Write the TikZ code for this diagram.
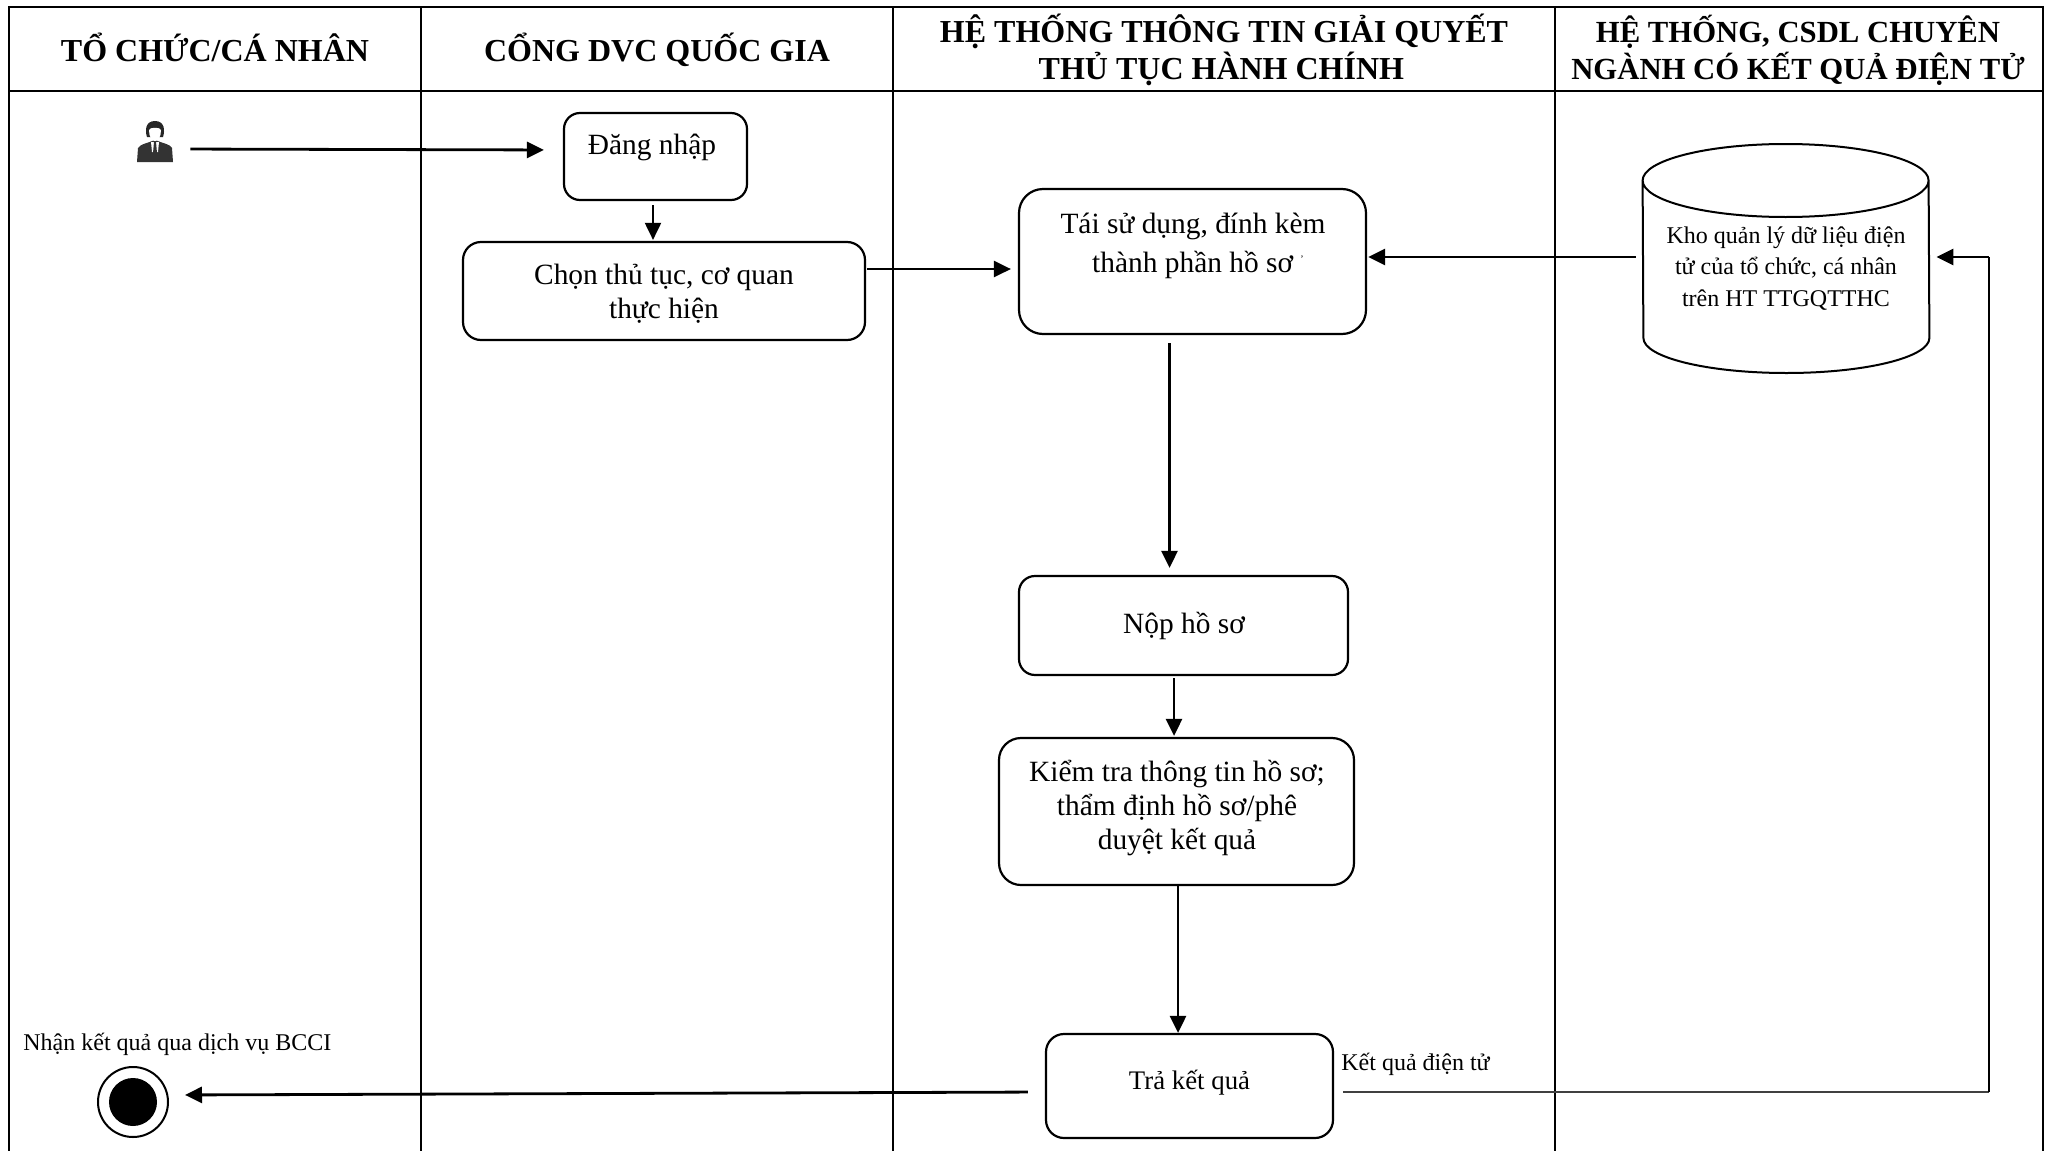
\documentclass[tikz,border=0pt]{standalone}
\usepackage{fontspec}
\setmainfont{Liberation Serif}
\usetikzlibrary{arrows.meta}
\tikzset{
  head/.style={font=\bfseries\fontsize{16}{18.5}\selectfont,align=center,inner sep=0pt},
  txt/.style={font=\fontsize{14.7}{17}\selectfont,align=center,inner sep=0pt},
  small/.style={font=\fontsize{12}{15.75}\selectfont,align=center,inner sep=0pt},
  box/.style={draw,line width=1.1pt,rounded corners=8pt,inner sep=0pt},
  arr/.style={line width=1.4pt,-{Triangle[length=8.5pt,width=8pt]}},
  thin line/.style={line width=0.8pt},
  frame/.style={line width=1.4pt},
  col/.style={line width=1pt},
}
\begin{document}
\begin{tikzpicture}[x=0.5pt,y=-0.5pt]
\useasboundingbox (0,0) rectangle (2051,1151);
% swimlane frame
\draw[frame] (9,1151) -- (9,7) -- (2043,7) -- (2043,1151);
\draw[frame] (9,91) -- (2043,91);
\draw[col] (421,7) -- (421,1151);
\draw[col] (893,7) -- (893,1151);
\draw[col] (1555,7) -- (1555,1151);
% headers
\node[head] (h1) at (215,47.5) {TỔ CHỨC/CÁ NHÂN};
\node[head] (h2) at (657,50) {CỔNG DVC QUỐC GIA};
\node[head] (h3) at (1224,50) {HỆ THỐNG THÔNG TIN GIẢI QUYẾT\\\hspace*{-2.6pt}THỦ TỤC HÀNH CHÍNH};
\node[head,font=\bfseries\fontsize{15.35}{18.5}\selectfont] (h4) at (1798,50) {HỆ THỐNG, CSDL CHUYÊN\\NGÀNH CÓ KẾT QUẢ ĐIỆN TỬ};
% boxes
\node[box,minimum width=91.5pt,minimum height=43.5pt] (login) at (655.5,156.5) {};
\node[box,minimum width=201pt,minimum height=49pt,rounded corners=9pt] (choose) at (664,291) {};
\node[box,minimum width=173.5pt,minimum height=72.5pt,rounded corners=12pt] (reuse) at (1192.5,261.5) {};
\node[box,minimum width=164.5pt,minimum height=49.5pt] (submit) at (1183.5,625.5) {};
\node[box,minimum width=177.5pt,minimum height=73.5pt,rounded corners=11pt] (check) at (1176.5,811.5) {};
\node[box,minimum width=143.5pt,minimum height=52pt,rounded corners=9pt] (result) at (1189.5,1086) {};
% box texts
\node[txt] (loginT) at (652,147.5) {Đăng nhập};
\node[txt] (chooseT) at (664,294) {Chọn thủ tục, cơ quan\\thực hiện};
\node[txt,font=\fontsize{14.7}{19.5}\selectfont] (reuseT) at (1193,245.5) {Tái sử dụng, đính kèm\\\hspace*{5pt}thành phần hồ sơ \raisebox{5pt}{\tiny'}};
\node[txt] (submitT) at (1184,626.3) {Nộp hồ sơ};
\node[txt] (checkT) at (1177,808) {Kiểm tra thông tin hồ sơ;\\thẩm định hồ sơ/phê\\duyệt kết quả};
\node[txt,font=\fontsize{13.4}{15}\selectfont] (resultT) at (1189.5,1082.5) {Trả kết quả};
% cylinder
\node[inner sep=0pt,minimum width=143pt,minimum height=114.5pt] (db) at (1786,258.5) {};
\draw[line width=1pt,line join=round] (db.west |- 0,180.5) arc[start angle=180,end angle=0,x radius=143,y radius=36.5]
  -- (db.east |- 0,338) arc[start angle=0,end angle=180,x radius=143,y radius=35] -- cycle;
\draw[line width=1pt,line join=round] (db.west |- 0,180.5) arc[start angle=180,end angle=360,x radius=143,y radius=36.5];
\node[small] (dbT) at (1786,268.5) {Kho quản lý dữ liệu điện\\tử của tổ chức, cá nhân\\trên HT TTGQTTHC};
% person icon
\node[inner sep=0pt,minimum width=18pt,minimum height=21pt] (person) at (155,141) {};
\fill[black!80] (137,162) -- (138,148) .. controls (140,144) and (148,143) .. (155,140) .. controls (162,143) and (170,144) .. (172,148) -- (173,162) -- cycle;
\fill[black!85] (155,121) .. controls (145,121) and (145,131) .. (147,137) -- (163,137) .. controls (165,131) and (165,121) .. (155,121) -- cycle;
\fill[white] (149,130) .. controls (149,127) and (161,127) .. (161,130) .. controls (161,137) and (158,141) .. (155,141) .. controls (152,141) and (149,137) .. (149,130) -- cycle;
\fill[white] (151,142) -- (159,142) -- (158,152) -- (152,152) -- cycle;
\fill[black!80] (154,142) -- (156,142) -- (157,153) -- (155,156) -- (153,153) -- cycle;
% end state
\node[circle,draw,line width=1pt,minimum size=35pt,inner sep=0pt] (endO) at (133,1102) {};
\node[circle,fill=black,minimum size=24pt,inner sep=0pt] (endI) at (endO) {};
\node[font=\fontsize{12}{14}\selectfont,inner sep=0pt,anchor=west] (endT) at (23,1044) {Nhận kết quả qua dịch vụ BCCI};
\node[font=\fontsize{12}{14}\selectfont,inner sep=0pt,anchor=west] (resL) at (1341,1064) {Kết quả điện tử};
% connectors
\draw[arr,shorten <=8.5pt,shorten >=9.5pt] ([yshift=-4pt]person.east) -- ([yshift=3.25pt]login.west);
\draw[arr,line width=1pt,shorten <=2pt,shorten >=0.5pt] ([xshift=-1.25pt]login.south) -- ([xshift=-5.5pt]choose.north);
\draw[arr,shorten <=0.5pt,shorten >=3.5pt] ([yshift=11pt]choose.east) -- ([yshift=-3.75pt]reuse.west);
\draw[arr,shorten <=3.5pt,shorten >=0.5pt] ([yshift=0.75pt]db.west) -- ([yshift=2.25pt]reuse.east);
\draw[arr,shorten <=4pt,shorten >=3.5pt] ([xshift=-11.5pt]reuse.south) -- ([xshift=-7pt]submit.north);
\draw[arr,shorten <=1pt,shorten >=0.5pt] ([xshift=-4.75pt]submit.south) -- ([xshift=-1.25pt]check.north);
\draw[arr] ([xshift=0.75pt]check.south) -- ([xshift=-5.75pt]result.north);
\draw[arr,shorten <=8.5pt,shorten >=8pt] ([yshift=-3pt]result.west) -- ([yshift=3.5pt]endO.east);
\coordinate (turn) at (1989,1092);
\coordinate (corner) at (1989,257);
\draw[thin line,black!75,shorten <=4.5pt] ([yshift=-3pt]result.east) -- (turn);
\draw[thin line] (turn) -- (corner);
\draw[arr,shorten >=3.5pt] (corner) -- ([yshift=0.75pt]db.east);
\end{tikzpicture}
\end{document}
